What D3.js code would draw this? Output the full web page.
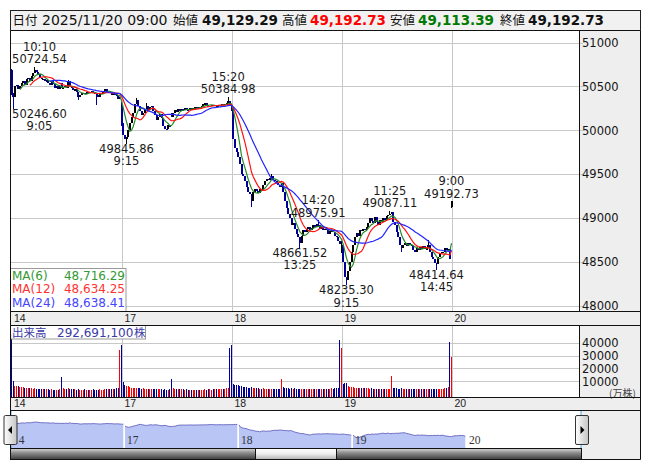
<!DOCTYPE html>
<html><head><meta charset="utf-8">
<script src="https://cdn.jsdelivr.net/npm/d3@7/dist/d3.min.js"></script>
<style>
body{margin:0;background:#fff;}
svg{display:block;}
</style></head><body>
<svg id="chart" width="653" height="470"></svg>
<script>
// ---------------- DATA ----------------
const dayLabels = ["14","17","18","19","20"];
const dayOpens = [50690, 50300, 50280, 48620, 49129.29];
const closes14 = [50420,50380,50500,50520,50470,50500,50540,50560,50520,50580,50600,50560,50620,50650,50690,50660,50640,50600,50580,50590,50560,50570,50540,50520,50560,50530,50480,50510,50470,50500,50480,50490,50510,50480,50560,50500,50480,50460,50470,50440,50380,50400,50420,50430,50410,50440,50420,50440,50450,50430,50410,50400,50380,50420,50430,50450,50470,50440,50450,50420,50400,50420,50410,50390,50360,50376.53];
const closes17 = [50080,49950,49900,49920,50000,50080,50150,50200,50300,50340,50280,50220,50180,50200,50240,50280,50230,50260,50280,50220,50180,50120,50150,50190,50140,50050,50020,50010,50060,50040,50150,50200,50230,50210,50240,50220,50240,50230,50250,50240,50230,50250,50240,50250,50260,50250,50270,50260,50280,50300,50310,50290,50270,50280,50290,50280,50290,50270,50280,50290,50300,50290,50300,50310,50330,50323.91];
const closes18 = [50250,49900,49800,49750,49700,49620,49500,49480,49420,49350,49300,49280,49200,49300,49330,49310,49290,49330,49310,49380,49420,49450,49430,49460,49480,49440,49420,49400,49380,49350,49400,49300,49200,49120,49050,49000,48920,48950,48880,48820,48780,48720,48800,48860,48840,48880,48900,48870,48890,48920,48900,48930,48920,48880,48900,48870,48880,48860,48820,48850,48860,48840,48800,48780,48740,48702.98];
const closes19 = [48700,48500,48330,48300,48400,48500,48620,48700,48780,48830,48800,48870,48850,48880,48860,48900,48950,49000,48970,48940,49010,48960,48920,48980,48960,49000,48980,49020,49040,49050,49070,48960,48920,48840,48780,48700,48660,48700,48720,48680,48720,48700,48680,48640,48620,48660,48640,48670,48650,48680,48650,48660,48690,48620,48560,48540,48490,48480,48560,48600,48620,48620,48660,48640,48650,48537.70];
const closes20 = [49192.73];
const openOverrides = [[0,30,50540],[1,30,50200]];
const highMarks = [[0,0,50700],[0,14,50724.54],[0,34,50570],[1,0,50320],[1,9,50370],[1,15,50310],[1,64,50384.98],[2,0,50300],[2,24,49500],[2,52,48975.91],[3,0,48740],[3,29,49087.11],[3,52,48750],[4,0,49192.73]];
const lowMarks = [[0,0,50400],[0,1,50246.60],[0,40,50340],[0,51,50290],[1,0,50050],[1,3,49845.86],[2,0,50220],[2,12,49130],[2,41,48661.52],[3,0,48600],[3,3,48235.30],[3,36,48620],[3,57,48414.64],[4,0,49113.39]];

const vol14 = [47000,10200,6500,6200,6000,5800,5600,5400,5000,4800,4700,4600,4500,4400,4600,4300,4200,4000,4100,3900,3800,3900,3700,3600,3800,3500,3600,3400,3500,3900,13400,5200,4400,4200,4500,4000,3800,3700,3900,3600,3800,3500,3600,3400,3700,3500,3600,3300,3500,3700,3400,3600,3500,3800,3600,3500,3900,3700,3800,4000,3900,4100,4300,4500,5200,34600];
const vol17 = [38500,9500,7500,6500,6000,5500,5200,5000,4800,5000,4600,4500,4400,4600,4300,4200,4400,4100,4000,4200,3900,3800,4000,3700,3800,3600,3700,3500,3600,4000,11800,5000,4300,4100,4000,3800,3700,3900,3600,3700,3500,3600,3400,3500,3600,3300,3500,3400,3600,3500,3700,3600,3800,3700,3600,3900,3800,4000,3900,4100,4200,4000,4400,4600,4800,36000];
const vol18 = [38500,8000,7500,7000,6800,6500,6000,5800,5500,5600,5200,5000,5300,4800,4600,4500,4700,4400,4300,4500,4200,4100,4300,4000,3900,4100,3800,3700,3900,4200,11800,5500,4800,4600,4700,4400,4500,4300,4600,4200,4400,4100,4300,4000,4200,3900,4000,4100,3800,4000,3900,3800,4000,3900,4100,4000,4200,4100,4300,4400,4500,4400,4600,4800,5200,42400];
const vol19 = [36000,8200,8500,8800,6500,5800,5500,5300,5200,5000,4900,5100,4800,4700,4600,4800,4500,4400,4600,4300,4200,4400,4100,4000,4200,3900,4000,3800,3900,4300,14400,5000,4600,4500,4400,4300,4500,4200,4100,4300,4000,4200,3900,4000,3800,3900,4100,3800,3700,3900,3800,3700,3900,3800,4000,3900,4100,4000,4200,4100,4300,4400,4600,4800,5500,40500];
const vol20 = [29269];

const priceTicks = [48000,48500,49000,49500,50000,50500,51000];
const volTicks = [10000,20000,30000,40000];
const maPeriods = [6,12,24];
const maLabels = ["MA(6)","MA(12)","MA(24)"];
const maValues = ["48,716.29","48,634.25","48,638.41"];
const maColors = ["#2a8a2a","#ff1414","#2424ff"];
const maTextColors = ["#339933","#ff3333","#4545ff"];
const annotations = [
  {d:0,i:14,p:50724.54,t:"10:10",hi:true},
  {d:0,i:1,p:50246.60,t:"9:05",hi:false},
  {d:1,i:3,p:49845.86,t:"9:15",hi:false},
  {d:1,i:64,p:50384.98,t:"15:20",hi:true},
  {d:2,i:41,p:48661.52,t:"13:25",hi:false},
  {d:2,i:52,p:48975.91,t:"14:20",hi:true},
  {d:3,i:3,p:48235.30,t:"9:15",hi:false},
  {d:3,i:29,p:49087.11,t:"11:25",hi:true},
  {d:3,i:57,p:48414.64,t:"14:45",hi:false},
  {d:4,i:0,p:49192.73,t:"9:00",hi:true}
];
const header = {date:"2025/11/20 09:00", open:"49,129.29", high:"49,192.73", low:"49,113.39", close:"49,192.73"};
const volumeTotal = "292,691,100";

// ---------------- BUILD ----------------
const closesByDay = [closes14, closes17, closes18, closes19, closes20];
const volsByDay = [vol14, vol17, vol18, vol19, vol20];
const PER_DAY = 66;
const bars = [];
closesByDay.forEach((cl, d) => cl.forEach((c, i) => {
  const prev = bars.length ? bars[bars.length-1].c : c;
  const o = i === 0 ? dayOpens[d] : prev;
  bars.push({d, i, g: d*PER_DAY + i, o, c, h: Math.max(o,c), l: Math.min(o,c), v: volsByDay[d][i]});
}));
const find = (d,i) => bars.find(b => b.d===d && b.i===i);
openOverrides.forEach(([d,i,v]) => { const b = find(d,i); b.o = v; b.h = Math.max(v, b.c); b.l = Math.min(v, b.c); });
highMarks.forEach(([d,i,v]) => { const b = find(d,i); b.h = Math.max(v, b.o, b.c); });
lowMarks.forEach(([d,i,v]) => { const b = find(d,i); b.l = Math.min(v, b.o, b.c); });

const SANS = "'DejaVu Sans', Verdana, sans-serif";
const CJK = "'Noto Sans CJK JP','Noto Sans CJK SC',sans-serif";
const svg = d3.select("#chart");

const L = 10.5, R = 640.5, PR = 579.5;
const T = 30.5, PB = 311.5, VT = 325.5, VB = 397.5, NT = 410.5, NB = 448.5, B = 459.5;

const nSlots = 341;
const x = d3.scaleLinear().domain([0, nSlots]).range([11.5, 11.5 + nSlots*110/66]);
const y = d3.scaleLinear().domain([48000, 51000]).range([306, 42.5]);
const yv = d3.scaleLinear().domain([0, 40000]).range([394.2, 342.7]);
const xn = d3.scaleLinear().domain([0, PER_DAY*5]).range([11, 11 + 114*5]);
const yn = d3.scaleLinear().domain([48000, 51000]).range([439.8, 420]);

// header
svg.append("rect").attr("x", L).attr("y", 10.5).attr("width", R-L).attr("height", 20).attr("fill", "#f1f1f1").attr("stroke", "#222");
const hdr = svg.append("g");
const hy = 25;
hdr.append("text").attr("x", 12.5).attr("y", hy).attr("font-family", CJK).attr("font-size", 12.5).attr("fill","#111").text("日付");
hdr.append("text").attr("x", 42).attr("y", hy).attr("font-family", SANS).attr("font-size", 14).attr("fill","#111").text(header.date);
const hItems = [["始値",173,header.open,202,"#111"],["高値",282,header.high,310,"#ff0000"],["安値",390,header.low,418,"#007a00"],["終値",500,header.close,528,"#111"]];
hItems.forEach(([lab,lx,val,vx,col]) => {
  hdr.append("text").attr("x", lx).attr("y", hy).attr("font-family", CJK).attr("font-size", 12.5).attr("fill","#111").text(lab);
  hdr.append("text").attr("x", vx).attr("y", hy).attr("font-family", SANS).attr("font-weight","bold").attr("font-size", 13.5).attr("fill", col).text(val);
});

// frame background
svg.append("rect").attr("x", L).attr("y", T).attr("width", R-L).attr("height", B-T).attr("fill", "#fff");
svg.append("rect").attr("x", PR).attr("y", T).attr("width", R-PR).attr("height", PB-T).attr("fill", "#eeeeee");
svg.append("rect").attr("x", L).attr("y", PB).attr("width", R-L).attr("height", VT-PB).attr("fill", "#eeeeee");
svg.append("rect").attr("x", PR).attr("y", VT).attr("width", R-PR).attr("height", VB-VT).attr("fill", "#eeeeee");
svg.append("rect").attr("x", L).attr("y", VB).attr("width", R-L).attr("height", NT-VB).attr("fill", "#eeeeee");
svg.append("rect").attr("x", 581.5).attr("y", NT).attr("width", R-581.5).attr("height", B-NT).attr("fill", "#eeeeee");

const gridCol = "#c8c8c8";
svg.append("g").selectAll("line").data(priceTicks).join("line")
  .attr("x1", 11).attr("x2", 583).attr("y1", d => Math.round(y(d))+0.5).attr("y2", d => Math.round(y(d))+0.5)
  .attr("stroke", gridCol);
const dayStarts = [1,2,3,4].map(d => d*PER_DAY);
svg.append("g").selectAll("line").data(dayStarts).join("line")
  .attr("x1", g => Math.round(x(g))+0.5).attr("x2", g => Math.round(x(g))+0.5).attr("y1", T).attr("y2", PB)
  .attr("stroke", gridCol);
svg.append("g").selectAll("line").data(volTicks).join("line")
  .attr("x1", 11).attr("x2", PR).attr("y1", d => Math.round(yv(d))+0.5).attr("y2", d => Math.round(yv(d))+0.5)
  .attr("stroke", gridCol);
svg.append("g").selectAll("line").data(dayStarts).join("line")
  .attr("x1", g => Math.round(x(g))+0.5).attr("x2", g => Math.round(x(g))+0.5).attr("y1", VT).attr("y2", VB)
  .attr("stroke", gridCol);

const defs = svg.append("defs");
defs.append("clipPath").attr("id","pclip").append("rect").attr("x", 11).attr("y", T+0.5).attr("width", PR-11).attr("height", PB-T-1);
defs.append("clipPath").attr("id","vclip").append("rect").attr("x", 11).attr("y", VT+0.5).attr("width", PR-11).attr("height", VB-VT-1);

const upCol = "#000000", dnCol = "#000096";
const cg = svg.append("g").attr("clip-path","url(#pclip)").attr("shape-rendering","crispEdges");
cg.selectAll("line").data(bars).join("line")
  .attr("x1", b => x(b.g)).attr("x2", b => x(b.g)).attr("y1", b => y(b.h)).attr("y2", b => y(b.l))
  .attr("stroke", b => b.c >= b.o ? upCol : dnCol).attr("stroke-width", 1);
cg.selectAll("rect").data(bars).join("rect")
  .attr("x", b => x(b.g) - 1).attr("width", 2)
  .attr("y", b => y(Math.max(b.o,b.c))).attr("height", b => Math.max(1.5, y(Math.min(b.o,b.c)) - y(Math.max(b.o,b.c))))
  .attr("fill", b => b.c >= b.o ? upCol : dnCol);

const closesAll = bars.map(b => b.c);
maPeriods.forEach((n, k) => {
  const pts = [];
  for (let j = n-1; j < closesAll.length; j++) pts.push([bars[j].g, d3.mean(closesAll.slice(j-n+1, j+1))]);
  svg.append("path").attr("clip-path","url(#pclip)")
    .attr("d", d3.line().x(p => x(p[0])).y(p => y(p[1]))(pts))
    .attr("fill","none").attr("stroke", maColors[k]).attr("stroke-width", 1.2);
});

const ag = svg.append("g").attr("font-family", SANS).attr("font-size", 11.5).attr("fill", "#1a1a1a").attr("text-anchor","middle");
annotations.forEach(a => {
  const cx = Math.max(x(a.d*PER_DAY + a.i), 39.5);
  const py = y(a.p);
  const ptxt = a.p.toFixed(2);
  if (a.hi) {
    ag.append("text").attr("x", cx).attr("y", py - 16).text(a.t);
    ag.append("text").attr("x", cx).attr("y", py - 3.5).text(ptxt);
  } else {
    ag.append("text").attr("x", cx).attr("y", py + 9).text(ptxt);
    ag.append("text").attr("x", cx).attr("y", py + 21.5).text(a.t);
  }
});

svg.append("rect").attr("x", L).attr("y", 268.5).attr("width", 115.5).attr("height", PB-268.5).attr("fill","#fff").attr("fill-opacity",0.9).attr("stroke","#9a9a9a");
maLabels.forEach((lab, k) => {
  const ty = 279.5 + k*13.8;
  svg.append("text").attr("x", 12).attr("y", ty).attr("font-family", SANS).attr("font-size", 12).attr("fill", maTextColors[k]).text(lab);
  svg.append("text").attr("x", 125).attr("y", ty).attr("text-anchor","end").attr("font-family", SANS).attr("font-size", 12).attr("fill", maTextColors[k]).text(maValues[k]);
});

svg.append("g").attr("transform","translate(582,0)")
  .call(d3.axisRight(y).tickValues(priceTicks).tickSize(0).tickPadding(0).tickFormat(d3.format("d")))
  .call(g => g.select(".domain").remove())
  .attr("font-family", SANS).attr("font-size", 11.5)
  .selectAll("text").attr("fill","#141414");

const vg = svg.append("g").attr("clip-path","url(#vclip)").attr("shape-rendering","crispEdges");
vg.selectAll("rect").data(bars).join("rect")
  .attr("x", b => x(b.g) - 0.65).attr("width", 1.3)
  .attr("y", b => yv(b.v)).attr("height", b => VB - yv(b.v))
  .attr("fill", b => b.c >= b.o ? "#ff0000" : "#000096");

svg.append("rect").attr("x", L).attr("y", VT).attr("width", 135).attr("height", 13.5).attr("fill","#fff").attr("fill-opacity",0.92).attr("stroke","#9a9a9a");
svg.append("text").attr("x", 12).attr("y", 336.5).attr("font-family", CJK).attr("font-size", 11.5).attr("fill","#3a3aa8").text("出来高");
svg.append("text").attr("x", 57).attr("y", 336.5).attr("font-family", SANS).attr("font-size", 12).attr("fill","#3a3aa8").text(volumeTotal);
svg.append("text").attr("x", 134).attr("y", 336.5).attr("font-family", CJK).attr("font-size", 11.5).attr("fill","#3a3aa8").text("株");

svg.append("g").attr("transform","translate(582,0)")
  .call(d3.axisRight(yv).tickValues(volTicks).tickSize(0).tickPadding(0).tickFormat(d3.format("d")))
  .call(g => g.select(".domain").remove())
  .attr("font-family", SANS).attr("font-size", 11.5)
  .selectAll("text").attr("fill","#141414");
svg.append("text").attr("x", 609).attr("y", 397).attr("font-family", CJK).attr("font-size", 10).attr("fill","#444").text("(万株)");

[322, 407].forEach(ty => {
  dayLabels.forEach((lab, d) => {
    svg.append("text").attr("x", d === 0 ? 14 : x(d*PER_DAY) + 3).attr("y", ty)
      .attr("font-family", "'Liberation Sans', Arial, sans-serif").attr("font-size", 10.5).attr("fill","#222").text(lab);
  });
});

const navArea = d3.area().x(b => xn(b.g)).y0(NB).y1(b => yn(b.c));
const navLine = d3.line().x(b => xn(b.g)).y(b => yn(b.c));
for (let d = 0; d < 5; d++) {
  const db = bars.filter(b => b.d === d);
  svg.append("path").attr("d", navArea(db)).attr("fill", "#b9c5f5");
  svg.append("path").attr("d", navLine(db)).attr("fill","none").attr("stroke","#6e6ec4").attr("stroke-width",1);
}
dayLabels.forEach((lab, d) => {
  svg.append("text").attr("x", xn(d*PER_DAY) + 2).attr("y", 443.5)
    .attr("font-family", "'Liberation Serif','DejaVu Serif',serif").attr("font-size", 11.5).attr("fill","#333").text(lab);
});
svg.append("line").attr("x1", 11).attr("x2", 11).attr("y1", NT).attr("y2", NB).attr("stroke","#43a8e0");
svg.append("line").attr("x1", 581).attr("x2", 581).attr("y1", NT).attr("y2", NB).attr("stroke","#43a8e0");

const tg = defs.append("linearGradient").attr("id","trackG").attr("x1",0).attr("y1",0).attr("x2",0).attr("y2",1);
tg.append("stop").attr("offset",0).attr("stop-color","#d6d6d6");
tg.append("stop").attr("offset",0.4).attr("stop-color","#8c8c8c");
tg.append("stop").attr("offset",1).attr("stop-color","#3c3c3c");
const thg = defs.append("linearGradient").attr("id","thumbG").attr("x1",0).attr("y1",0).attr("x2",0).attr("y2",1);
thg.append("stop").attr("offset",0).attr("stop-color","#ffffff");
thg.append("stop").attr("offset",0.5).attr("stop-color","#ececec");
thg.append("stop").attr("offset",1).attr("stop-color","#b0b0b0");
const btg = defs.append("linearGradient").attr("id","btnG").attr("x1",0).attr("y1",0).attr("x2",1).attr("y2",0);
btg.append("stop").attr("offset",0).attr("stop-color","#ffffff");
btg.append("stop").attr("offset",1).attr("stop-color","#c4c4c4");
svg.append("rect").attr("x", L).attr("y", NB).attr("width", 581.5-L).attr("height", B-NB).attr("fill","url(#trackG)").attr("stroke","#111");
svg.append("rect").attr("x", 255.5).attr("y", NB).attr("width", 81).attr("height", B-NB).attr("fill","url(#thumbG)").attr("stroke","#111");

const border = (x1,y1,x2,y2) => svg.append("line").attr("x1",x1).attr("y1",y1).attr("x2",x2).attr("y2",y2).attr("stroke","#111");
border(L, T, R, T);
border(L, PB, R, PB);
border(L, VT, R, VT);
border(L, VB, R, VB);
border(L, NT, R, NT);
border(L, B, R, B);
border(L, T, L, B);
border(R, T, R, B);
border(PR, T, PR, PB);
border(PR, VT, PR, VB);

[[4, "l"], [575.5, "r"]].forEach(([bx, dir]) => {
  svg.append("rect").attr("x", bx).attr("y", 415.5).attr("width", 13).attr("height", 29).attr("rx", 1.5)
    .attr("fill","url(#btnG)").attr("stroke","#333");
  const cx = bx + 6.5, cy = 430;
  const pts = dir === "l" ? [[cx-2.5,cy],[cx+1.5,cy-4],[cx+1.5,cy+4]] : [[cx+2.5,cy],[cx-1.5,cy-4],[cx-1.5,cy+4]];
  svg.append("path").attr("d", d3.line()(pts) + "Z").attr("fill","#000");
});
</script>
</body></html>
